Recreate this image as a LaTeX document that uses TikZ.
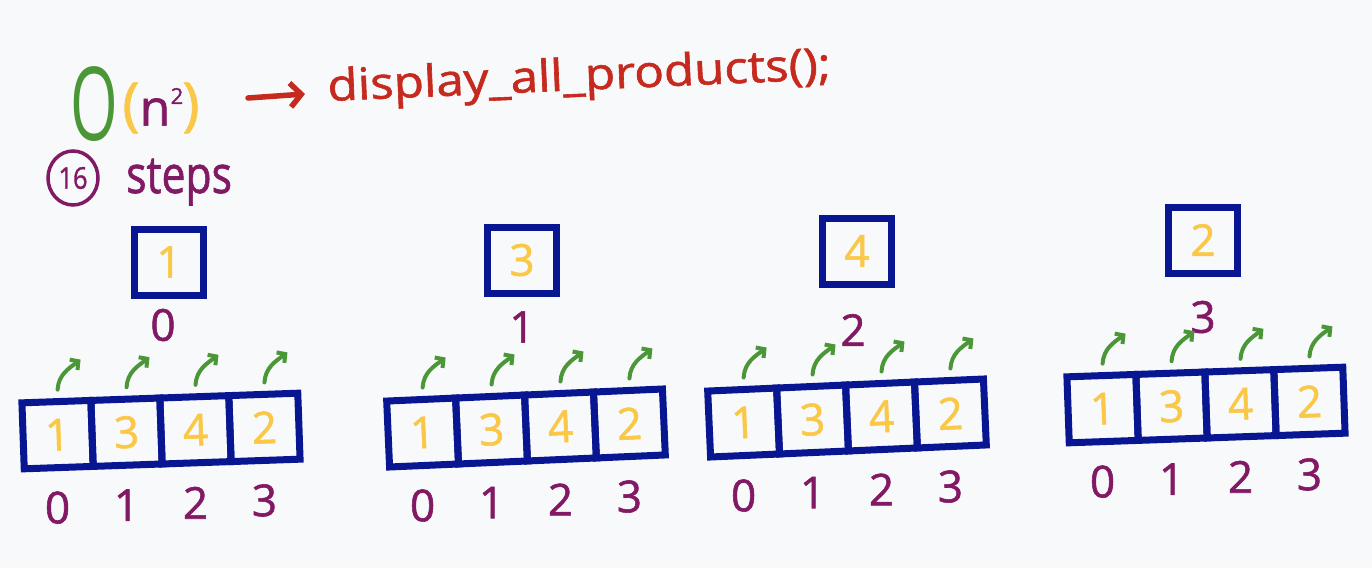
\documentclass[tikz,border=0pt]{standalone}
\usepackage{fontspec}
\setmainfont{Open Sans}
\newfontfamily\hand{Open Sans}[FakeBold=1.3]
\usetikzlibrary{calc,arrows.meta,shapes.geometric}
\definecolor{navy}{RGB}{8,22,145}
\definecolor{yel}{RGB}{250,200,70}
\definecolor{pur}{RGB}{130,25,100}
\definecolor{grn}{RGB}{75,150,55}
\definecolor{rd}{RGB}{198,42,30}
\definecolor{bg}{RGB}{248,249,251}
\newcommand\myfs[1]{\fontsize{#1}{#1}\selectfont}
\tikzset{
  cell/.style={draw=navy, line width=7pt, minimum width=69pt, minimum height=66pt, inner sep=0pt, text=yel, font=\hand\myfs{44}},
  idx/.style={text=pur, font=\hand\myfs{44}, inner sep=0pt},
  garrow/.style={draw=grn, line width=4pt, line cap=round, -{Straight Barb[length=6pt,width=13pt]}},
  rarrow/.style={draw=rd, line width=5.5pt, line cap=round, -{Straight Barb[length=11pt,width=24pt]}},
}
\newcommand\drawarr[4]{%
  \coordinate (#1) at (#2,#3);
  \node[cell,rotate=#4] (#1-0) at ($(#1)+(#4:-103.5pt)$) {1};
  \node[cell,rotate=#4] (#1-1) at ($(#1)+(#4:-34.5pt)$) {3};
  \node[cell,rotate=#4] (#1-2) at ($(#1)+(#4:34.5pt)$) {4};
  \node[cell,rotate=#4] (#1-3) at ($(#1)+(#4:103.5pt)$) {2};
  \foreach \k in {0,...,3}{
    \node[idx] (#1-i\k) at ($(#1-\k)+(0,73)$) {\k};
    \coordinate (#1-s\k) at ($(#1-\k)+(0,-45)$);
    \coordinate (#1-e\k) at ($(#1-\k)+(23,-75)$);
    \draw[garrow] (#1-s\k) .. controls ($(#1-s\k)+(1,-15)$) and ($(#1-e\k)+(-12,9)$) .. (#1-e\k);
  }
}
\begin{document}
\begin{tikzpicture}[x=1pt,y=-1pt]
\path[fill=bg] (0,0) rectangle (1372,568);
\useasboundingbox (0,0) rectangle (1372,568);

% title
\node[text=grn, inner sep=0pt, font=\myfs{102}] (bigO) at (94,104) {\scalebox{0.6}[1]{O}};
\node[text=yel, inner sep=0pt, font=\hand\myfs{58}] (lp) at (131,108) {(};
\node[text=pur, inner sep=0pt, font=\hand\myfs{50}] (n) at (155,112) {n};
\node[text=pur, inner sep=0pt, font=\hand\myfs{22}] (sq) at (177,96) {2};
\node[text=yel, inner sep=0pt, font=\hand\myfs{58}] (rp) at (191,108) {)};
\coordinate (ra1) at (248,98);
\coordinate (ra2) at (305,94);
\draw[rarrow] (ra1) -- (ra2);
\node[text=rd, inner sep=0pt, anchor=base west, rotate=2.5, font=\hand\myfs{44}] (code) at (328,101) {\scalebox{1.12}[1]{display\_all\_products();}};

\node[text=pur, inner sep=0pt, font=\hand\myfs{30}] (sixteen) at (73,178) {\scalebox{0.85}[1]{16}};
\node[draw=pur, line width=3.5pt, ellipse, minimum width=50pt, minimum height=54pt, inner sep=0pt] (ring) at (73,178) {};
\node[text=pur, inner sep=0pt, anchor=base west, font=\hand\myfs{52}] (steps) at (126,193) {\scalebox{0.82}[1]{steps}};

% top boxes
\node[cell] (t1) at (169,262) {1};
\node[idx] (t1l) at (163,325) {0};
\node[cell] (t2) at (522,260) {3};
\node[idx] (t2l) at (522,327) {1};
\node[cell] (t3) at (857,251) {4};
\node[idx] (t3l) at (853,330) {2};
\node[cell] (t4) at (1203,240) {2};
\node[idx] (t4l) at (1203,317) {3};

% arrays
\drawarr{A}{161}{431}{2}
\drawarr{B}{526}{428}{2.5}
\drawarr{C}{847}{418}{2.5}
\drawarr{D}{1206}{405}{2}
\end{tikzpicture}
\end{document}
